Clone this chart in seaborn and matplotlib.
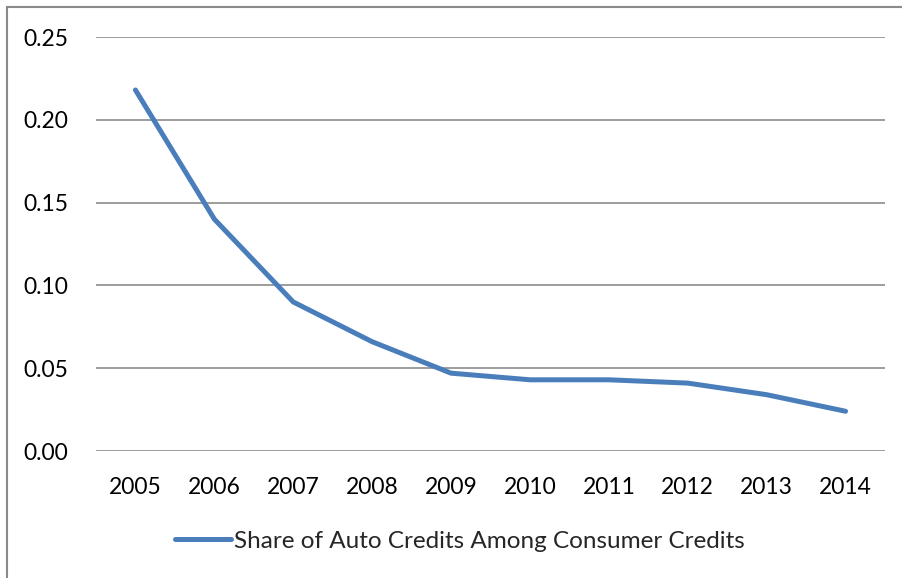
import matplotlib
matplotlib.use("Agg")
import matplotlib.pyplot as plt
import seaborn as sns
import pandas as pd
from matplotlib.patches import Rectangle

years = ["2005", "2006", "2007", "2008", "2009", "2010", "2011", "2012", "2013", "2014"]
share = [0.218, 0.140, 0.090, 0.066, 0.047, 0.043, 0.043, 0.041, 0.034, 0.024]
y_ticks = [0.00, 0.05, 0.10, 0.15, 0.20, 0.25]
series_name = "Share of Auto Credits Among Consumer Credits"

sns.set_style("white")
plt.rcParams['font.family'] = ['Lato', 'DejaVu Sans']

W, H = 902, 578
fig = plt.figure(figsize=(W / 100, H / 100), dpi=100)
ax = fig.add_axes([96 / W, (H - 451) / H, (885 - 96) / W, (451 - 37) / H])

df = pd.DataFrame({"year": years, "share": share, "pos": range(len(years))})
sns.lineplot(data=df, x="pos", y="share", ax=ax, color="#4a7ebb", linewidth=3.6,
             label=series_name, legend=False)

ax.set_xlim(-0.5, len(years) - 0.5)
ax.set_ylim(0, 0.25)
ax.set_yticks(y_ticks)
ax.set_yticklabels([f"{v:.2f}" for v in y_ticks])
ax.set_xticks(range(len(years)))
ax.set_xticklabels(years)
ax.grid(axis="y", color="#8c8c8c", linewidth=1.2)
ax.set_axisbelow(True)
for s in ax.spines.values():
    s.set_visible(False)
ax.tick_params(axis="both", length=0, labelsize=16.5, colors="black")
ax.tick_params(axis="y", pad=20)
ax.tick_params(axis="x", pad=19)
ax.set_xlabel("")
ax.set_ylabel("")

handles, labels = ax.get_legend_handles_labels()
fig.legend(handles, labels, loc="center", bbox_to_anchor=(460 / W, (H - 541) / H),
           frameon=False, fontsize=17.5, handlelength=2.3, handletextpad=0.1)

fig.patches.append(Rectangle((7 / W, -0.1), 1.2, (H - 7) / H + 0.1, transform=fig.transFigure,
                             fill=False, edgecolor="#8a8a8a", linewidth=1.5))

fig.savefig("out.png", dpi=100)
